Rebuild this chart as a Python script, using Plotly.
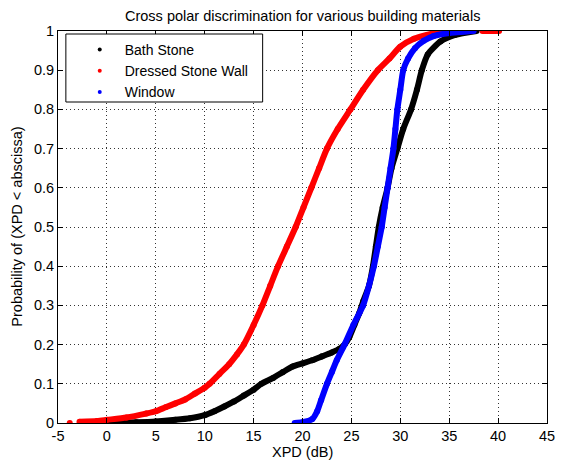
import plotly.graph_objects as go

# ---- data (XPD in dB, cumulative probability) ----
bath_x = [-0.5, 1, 3, 5, 7, 8.5, 10, 11, 12, 13, 14, 15, 15.8, 17, 18, 19, 20, 21, 22, 23, 23.7,
          24.3, 24.8, 25.3, 25.8, 26.2, 26.8, 27.2, 27.5, 27.8, 28.2, 28.7, 29.1, 29.7, 30.3, 31.1,
          31.7, 32.2, 32.8, 34.1, 35.6, 37.8]
bath_p = [0, 0.001, 0.002, 0.004, 0.008, 0.012, 0.02, 0.03, 0.042, 0.055, 0.07, 0.085, 0.1, 0.115,
          0.13, 0.144, 0.152, 0.16, 0.17, 0.18, 0.188, 0.2, 0.22, 0.25, 0.28, 0.31, 0.35, 0.4, 0.45,
          0.5, 0.55, 0.6, 0.65, 0.7, 0.75, 0.8, 0.85, 0.9, 0.94, 0.973, 0.99, 1.0]

wall_x = [-3.8, None, -2.8, -1, 0, 2, 4, 5, 6, 7, 8, 9, 10, 10.5, 11.5, 12.5, 13.3, 14.0, 15.0, 15.9,
          16.7, 17.5, 18.4, 19.3, 20.1, 20.9, 21.7, 22.5, 23.6, 24.9, 26.2, 27.7, 28.9, 30.0, 31.4,
          33.4, 35.2, 36.0, None, 38.4, 40.1]
wall_p = [0, None, 0.003, 0.005, 0.008, 0.014, 0.024, 0.03, 0.04, 0.05, 0.06, 0.075, 0.09, 0.1, 0.125,
          0.15, 0.175, 0.2, 0.25, 0.3, 0.35, 0.4, 0.45, 0.5, 0.55, 0.6, 0.65, 0.7, 0.75, 0.8, 0.85,
          0.9, 0.93, 0.96, 0.98, 0.994, 1.0, 1.0, None, 1.0, 1.0]

win_x = [19.2, 20, 21.0, 21.5, 21.9, 22.5, 23.0, 23.5, 24.3, 25.2, 26.2, 26.8, 27.3, 27.7, 28.1,
         28.4, 28.7, 29.0, 29.3, 29.5, 29.7, 30.0, 30.3, 30.8, 31.5, 32.4, 33.4, 35.0, 37.5]
win_p = [0, 0.002, 0.01, 0.03, 0.058, 0.1, 0.13, 0.16, 0.2, 0.25, 0.3, 0.35, 0.4, 0.45, 0.5,
         0.55, 0.6, 0.65, 0.7, 0.75, 0.8, 0.85, 0.9, 0.93, 0.956, 0.975, 0.987, 0.995, 1.0]

series_names = ["Bath Stone", "Dressed Stone Wall", "Window"]
series_colors = ["#000000", "#ff0000", "#0000ff"]
series_x = [bath_x, wall_x, win_x]
series_p = [bath_p, wall_p, win_p]

x_ticks = list(range(-5, 50, 5))
x_ticktext = [str(v) for v in x_ticks]
y_ticks = [round(i * 0.1, 1) for i in range(11)]
y_ticktext = [("%g" % v) for v in y_ticks]

FONT = "Liberation Sans, Arial, sans-serif"
FS = 14.5

fig = go.Figure()
for name, col, xs, ps in zip(series_names, series_colors, series_x, series_p):
    fig.add_trace(go.Scatter(x=xs, y=ps, mode="lines+markers", showlegend=False,
                             line=dict(color=col, width=6, shape="spline", smoothing=0.6),
                             marker=dict(color=col, size=6), hoverinfo="skip"))
for name, col in zip(series_names, series_colors):
    fig.add_trace(go.Scatter(x=[None], y=[None], mode="markers", name=name,
                             marker=dict(color=col, size=4)))

W, H = 561, 464
L, R, T, B = 58, 6, 31, 41
pw, ph = W - L - R, H - T - B


def px2paper(px, py):
    return (px - L) / pw, (H - B - py) / ph


axis_common = dict(showline=True, linecolor="#000", linewidth=1, mirror="ticks",
                   ticks="inside", ticklen=5, tickcolor="#000", tickwidth=1,
                   showgrid=True, gridcolor="#333", gridwidth=1, griddash="1px,3px",
                   zeroline=False, ticklabeloverflow="allow",
                   tickfont=dict(family=FONT, size=FS, color="#000"))

fig.update_xaxes(range=[-5, 45], tickmode="array", tickvals=x_ticks, ticktext=x_ticktext,
                 **axis_common)
fig.update_yaxes(range=[0, 1], tickmode="array", tickvals=y_ticks, ticktext=y_ticktext,
                 **axis_common)

bx0, by0 = px2paper(66, 34)
bx1, by1 = px2paper(266, 102)
fig.add_shape(type="rect", xref="paper", yref="paper", x0=bx0, y0=by1, x1=bx1, y1=by0,
              line=dict(color="#000", width=1), fillcolor="white", layer="above")

lx, ly = px2paper(75, 34)
fig.update_layout(
    width=W, height=H, margin=dict(l=L, r=R, t=T, b=B),
    paper_bgcolor="white", plot_bgcolor="white",
    font=dict(family=FONT, size=FS, color="#000"),
    legend=dict(x=lx, y=ly, xanchor="left", yanchor="top", bgcolor="rgba(0,0,0,0)",
                borderwidth=0, itemwidth=40, font=dict(family=FONT, size=14, color="#000")),
)

tx, ty = px2paper(306, 16)
xtx, xty = px2paper(306, 452)
ytx, yty = px2paper(16, 227)
fig.add_annotation(text="Cross polar discrimination for various building materials",
                   xref="paper", yref="paper", x=tx, y=ty, xanchor="center", yanchor="middle",
                   showarrow=False, font=dict(family=FONT, size=FS))
fig.add_annotation(text="XPD (dB)", xref="paper", yref="paper", x=xtx, y=xty,
                   xanchor="center", yanchor="middle", showarrow=False,
                   font=dict(family=FONT, size=FS))
fig.add_annotation(text="Probability of (XPD < abscissa)", xref="paper", yref="paper",
                   x=ytx, y=yty, xanchor="center", yanchor="middle", textangle=-90,
                   showarrow=False, font=dict(family=FONT, size=FS))

fig.write_html("out.html")
